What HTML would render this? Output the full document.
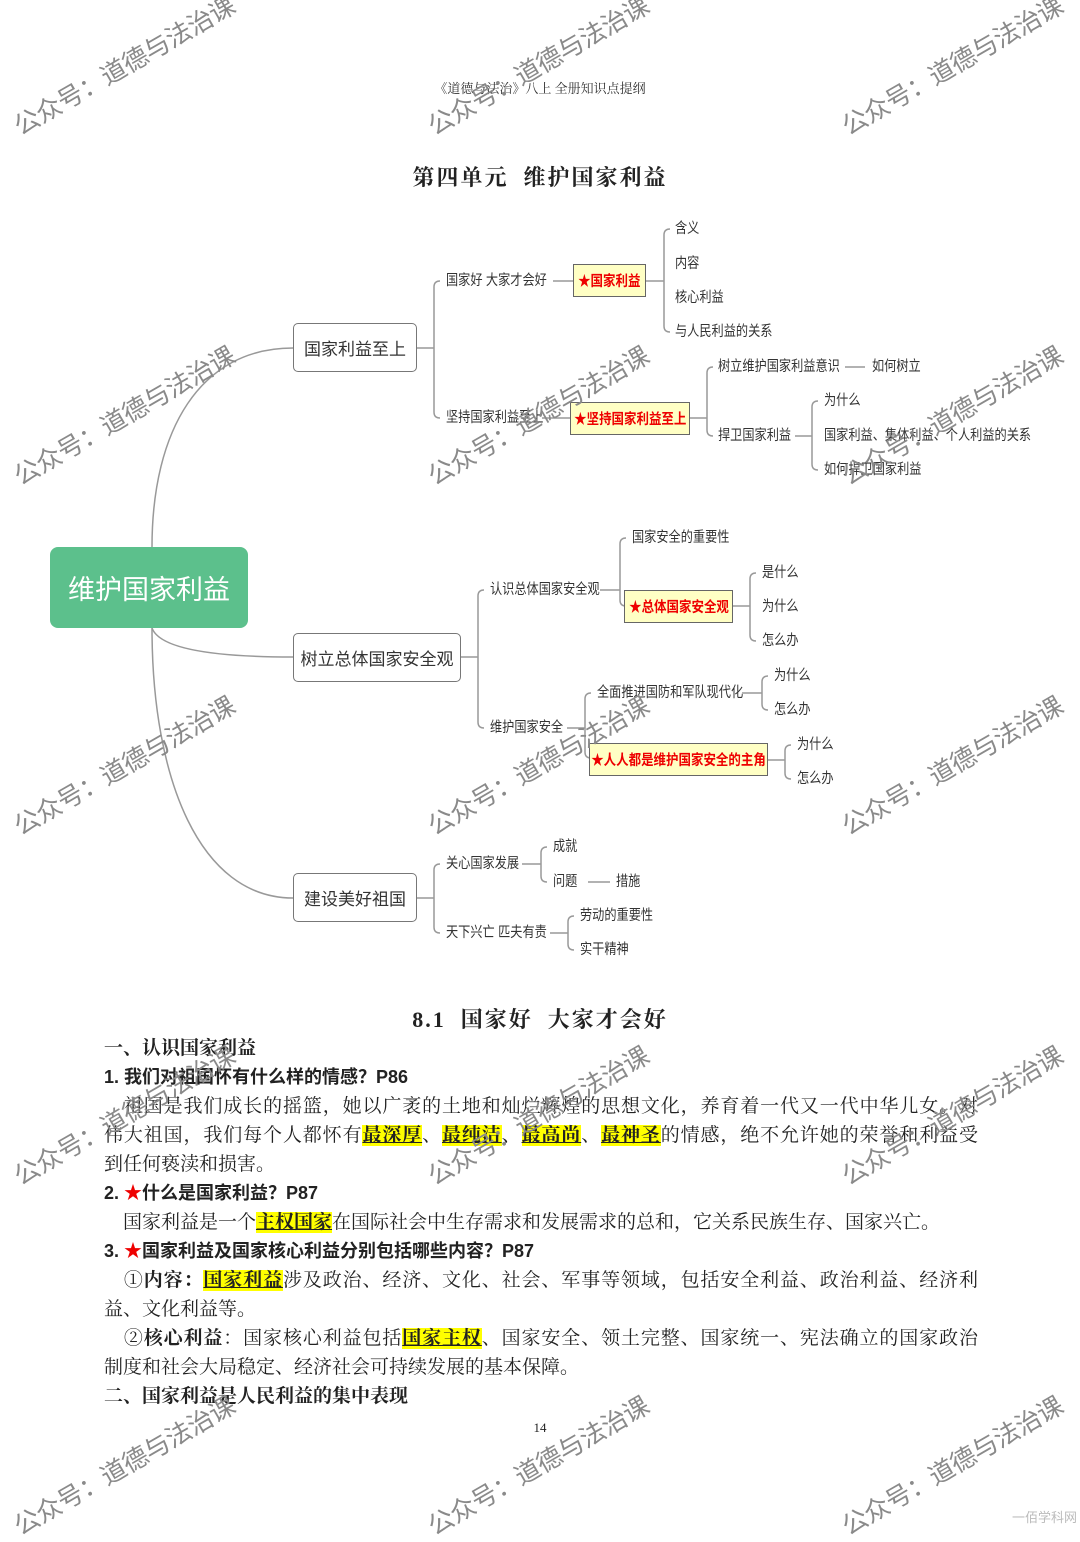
<!DOCTYPE html>
<html><head><meta charset="utf-8">
<style>
*{margin:0;padding:0;box-sizing:border-box}
body{width:1080px;height:1528px;background:#fff;position:relative;overflow:hidden;font-family:"Liberation Sans","Noto Sans CJK SC",sans-serif;color:#222}
.t{position:absolute;font-size:14.5px;line-height:18px;white-space:nowrap;transform:scaleX(0.84);transform-origin:left center;color:#333}
.box{position:absolute;border:1.5px solid #777;border-radius:5px;background:#fff;display:flex;align-items:center;justify-content:center;font-size:17px;color:#333;white-space:nowrap}
.yb{position:absolute;border:1.5px solid #666;background:#ffffc4;display:flex;align-items:center;justify-content:center;font-size:14.5px;font-weight:bold;color:#e00;white-space:nowrap}
.yb span{display:inline-block;transform:scaleX(0.86)}
.wm{position:absolute;font-size:25.5px;color:#8a8a8a;white-space:nowrap;transform:rotate(-30deg);transform-origin:left bottom;letter-spacing:-0.5px;line-height:30px;height:30px}
.s{font-family:"Liberation Serif","Noto Serif CJK SC",serif}
.line{position:absolute;left:104px;width:874px;font-size:19px;line-height:29px;height:29px;white-space:nowrap;font-family:"Liberation Serif","Noto Serif CJK SC",serif;color:#222}
.j{text-align:justify;text-align-last:justify}
.h{font-family:"Liberation Sans","Noto Sans CJK SC",sans-serif;font-weight:bold;font-size:18px}
.hl{background:#ffff00;font-weight:bold;text-decoration:underline}
.st{color:#e00}
</style></head><body>

<div class="s" style="position:absolute;top:78px;width:1080px;text-align:center;font-size:13px;color:#333">《道德与法治》八上 全册知识点提纲</div>
<div class="s" style="position:absolute;top:161px;width:1080px;text-align:center;font-size:22px;font-weight:bold;letter-spacing:2px">第四单元&nbsp;&nbsp;维护国家利益</div>

<svg width="1080" height="1000" style="position:absolute;left:0;top:0" fill="none" stroke="#999" stroke-width="1.5">
<path d="M152 547 C152 430 200 348 293 348"/>
<path d="M152 628 C160 650 220 657 293 657"/>
<path d="M152 628 C152 780 200 898 293 898"/>
<path d="M417 348 H434"/>
<path d="M440 281 Q434 281 434 287 V412 Q434 418 440 418"/>
<path d="M553 281 H573"/>
<path d="M646 281 H664"/>
<path d="M670 229 Q664 229 664 235 V326 Q664 332 670 332"/>
<path d="M542 418 H570"/>
<path d="M690 418 H707"/>
<path d="M713 367 Q707 367 707 373 V430 Q707 436 713 436"/>
<path d="M845 367 H865"/>
<path d="M795 436 H812"/>
<path d="M818 401 Q812 401 812 407 V464 Q812 470 818 470"/>
<path d="M461 657 H478"/>
<path d="M484 590 Q478 590 478 596 V722 Q478 728 484 728"/>
<path d="M600 590 H620"/>
<path d="M626 538 Q620 538 620 544 V600 Q620 606 626 606"/>
<path d="M733 606 H750"/>
<path d="M756 573 Q750 573 750 579 V635 Q750 641 756 641"/>
<path d="M567 728 H585"/>
<path d="M591 693 Q585 693 585 699 V752 Q585 758 591 758"/>
<path d="M742 693 H762"/>
<path d="M768 676 Q762 676 762 682 V704 Q762 710 768 710"/>
<path d="M768 760 H785"/>
<path d="M791 745 Q785 745 785 751 V773 Q785 779 791 779"/>
<path d="M417 898 H434"/>
<path d="M440 864 Q434 864 434 870 V927 Q434 933 440 933"/>
<path d="M522 864 H541"/>
<path d="M547 847 Q541 847 541 853 V876 Q541 882 547 882"/>
<path d="M588 882 H610"/>
<path d="M550 933 H568"/>
<path d="M574 916 Q568 916 568 922 V944 Q568 950 574 950"/>
</svg>

<div style="position:absolute;left:50px;top:547px;width:198px;height:81px;background:#5cc08c;border-radius:8px;color:#fff;font-size:27px;display:flex;align-items:center;justify-content:center">维护国家利益</div>

<div class="box" style="left:293px;top:323px;width:124px;height:49px">国家利益至上</div>
<div class="box" style="left:293px;top:633px;width:168px;height:49px">树立总体国家安全观</div>
<div class="box" style="left:293px;top:873px;width:124px;height:49px">建设美好祖国</div>

<div class="yb" style="left:573px;top:264px;width:73px;height:33px"><span>★国家利益</span></div>
<div class="yb" style="left:570px;top:402px;width:120px;height:33px"><span>★坚持国家利益至上</span></div>
<div class="yb" style="left:624px;top:590px;width:109px;height:33px"><span>★总体国家安全观</span></div>
<div class="yb" style="left:589px;top:743px;width:179px;height:33px"><span>★人人都是维护国家安全的主角</span></div>

<div class="t" style="left:446px;top:272px">国家好 大家才会好</div>
<div class="t" style="left:446px;top:409px">坚持国家利益至上</div>
<div class="t" style="left:675px;top:220px">含义</div>
<div class="t" style="left:675px;top:255px">内容</div>
<div class="t" style="left:675px;top:289px">核心利益</div>
<div class="t" style="left:675px;top:323px">与人民利益的关系</div>
<div class="t" style="left:718px;top:358px">树立维护国家利益意识</div>
<div class="t" style="left:872px;top:358px">如何树立</div>
<div class="t" style="left:718px;top:427px">捍卫国家利益</div>
<div class="t" style="left:824px;top:392px">为什么</div>
<div class="t" style="left:824px;top:427px">国家利益、集体利益、个人利益的关系</div>
<div class="t" style="left:824px;top:461px">如何捍卫国家利益</div>

<div class="t" style="left:490px;top:581px">认识总体国家安全观</div>
<div class="t" style="left:490px;top:719px">维护国家安全</div>
<div class="t" style="left:632px;top:529px">国家安全的重要性</div>
<div class="t" style="left:762px;top:564px">是什么</div>
<div class="t" style="left:762px;top:598px">为什么</div>
<div class="t" style="left:762px;top:632px">怎么办</div>
<div class="t" style="left:597px;top:684px">全面推进国防和军队现代化</div>
<div class="t" style="left:774px;top:667px">为什么</div>
<div class="t" style="left:774px;top:701px">怎么办</div>
<div class="t" style="left:797px;top:736px">为什么</div>
<div class="t" style="left:797px;top:770px">怎么办</div>

<div class="t" style="left:446px;top:855px">关心国家发展</div>
<div class="t" style="left:446px;top:924px">天下兴亡 匹夫有责</div>
<div class="t" style="left:553px;top:838px">成就</div>
<div class="t" style="left:553px;top:873px">问题</div>
<div class="t" style="left:616px;top:873px">措施</div>
<div class="t" style="left:580px;top:907px">劳动的重要性</div>
<div class="t" style="left:580px;top:941px">实干精神</div>

<div class="s" style="position:absolute;top:1003px;width:1080px;text-align:center;font-size:22px;font-weight:bold;letter-spacing:2px">8.1&nbsp;&nbsp;国家好&nbsp;&nbsp;大家才会好</div>

<div class="line" style="top:1034px;font-weight:bold;font-size:19px">一、认识国家利益</div>
<div class="line h" style="top:1063px">1. 我们对祖国怀有什么样的情感？P86</div>
<div class="line j" style="top:1092px">&emsp;祖国是我们成长的摇篮，她以广袤的土地和灿烂辉煌的思想文化，养育着一代又一代中华儿女。对</div>
<div class="line j" style="top:1121px">伟大祖国，我们每个人都怀有<span class="hl">最深厚</span>、<span class="hl">最纯洁</span>、<span class="hl">最高尚</span>、<span class="hl">最神圣</span>的情感，绝不允许她的荣誉和利益受</div>
<div class="line" style="top:1150px">到任何亵渎和损害。</div>
<div class="line h" style="top:1179px">2. <span class="st">★</span>什么是国家利益？P87</div>
<div class="line" style="top:1208px">&emsp;国家利益是一个<span class="hl">主权国家</span>在国际社会中生存需求和发展需求的总和，它关系民族生存、国家兴亡。</div>
<div class="line h" style="top:1237px">3. <span class="st">★</span>国家利益及国家核心利益分别包括哪些内容？P87</div>
<div class="line j" style="top:1266px">&emsp;①<b>内容：</b><span class="hl">国家利益</span>涉及政治、经济、文化、社会、军事等领域，包括安全利益、政治利益、经济利</div>
<div class="line" style="top:1295px">益、文化利益等。</div>
<div class="line j" style="top:1324px">&emsp;②<b>核心利益</b>：国家核心利益包括<span class="hl">国家主权</span>、国家安全、领土完整、国家统一、宪法确立的国家政治</div>
<div class="line" style="top:1353px">制度和社会大局稳定、经济社会可持续发展的基本保障。</div>
<div class="line" style="top:1382px;font-weight:bold">二、国家利益是人民利益的集中表现</div>

<div class="s" style="position:absolute;top:1420px;width:1080px;text-align:center;font-size:13px">14</div>
<div style="position:absolute;left:1012px;top:1507px;font-size:13px;color:#bbb;white-space:nowrap">一佰学科网</div>

<div class="wm" style="left:24px;top:112px">公众号：道德与法治课</div>
<div class="wm" style="left:438px;top:112px">公众号：道德与法治课</div>
<div class="wm" style="left:852px;top:112px">公众号：道德与法治课</div>
<div class="wm" style="left:24px;top:462px">公众号：道德与法治课</div>
<div class="wm" style="left:438px;top:462px">公众号：道德与法治课</div>
<div class="wm" style="left:852px;top:462px">公众号：道德与法治课</div>
<div class="wm" style="left:24px;top:812px">公众号：道德与法治课</div>
<div class="wm" style="left:438px;top:812px">公众号：道德与法治课</div>
<div class="wm" style="left:852px;top:812px">公众号：道德与法治课</div>
<div class="wm" style="left:24px;top:1162px">公众号：道德与法治课</div>
<div class="wm" style="left:438px;top:1162px">公众号：道德与法治课</div>
<div class="wm" style="left:852px;top:1162px">公众号：道德与法治课</div>
<div class="wm" style="left:24px;top:1512px">公众号：道德与法治课</div>
<div class="wm" style="left:438px;top:1512px">公众号：道德与法治课</div>
<div class="wm" style="left:852px;top:1512px">公众号：道德与法治课</div>
</body></html>
